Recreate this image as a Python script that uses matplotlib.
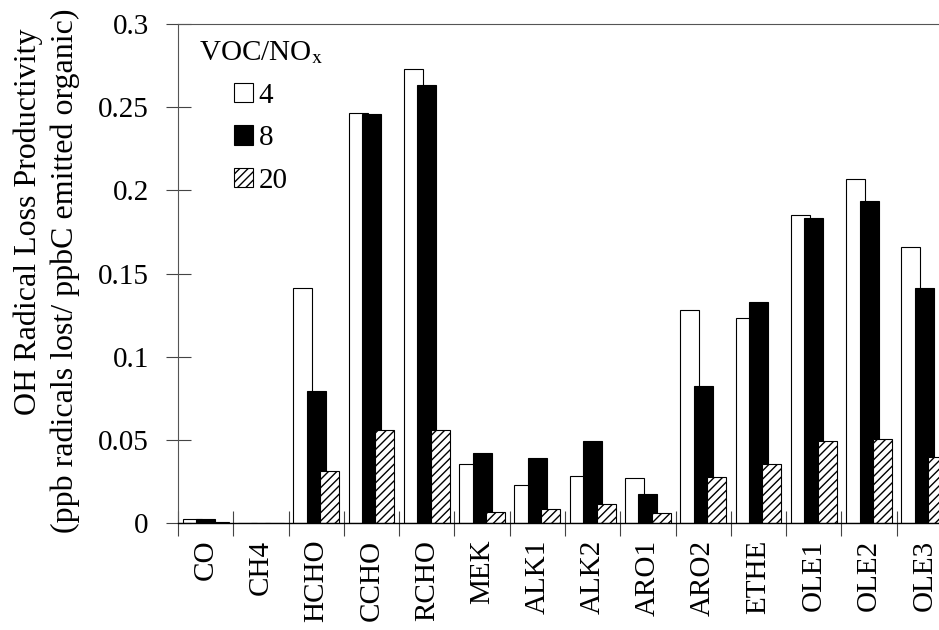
import numpy as np
import matplotlib
matplotlib.use("Agg")
from matplotlib import pyplot as plt

species = ["CO", "CH4", "HCHO", "CCHO", "RCHO", "MEK", "ALK1", "ALK2",
           "ARO1", "ARO2", "ETHE", "OLE1", "OLE2", "OLE3"]
ratio_4 = [0.0025, 0.0003, 0.1415, 0.2467, 0.2732, 0.0355, 0.0229, 0.0284,
           0.0269, 0.1280, 0.1235, 0.1850, 0.2067, 0.1660]
ratio_8 = [0.0024, 0.0003, 0.0796, 0.2459, 0.2632, 0.0420, 0.0390, 0.0490,
           0.0174, 0.0824, 0.1330, 0.1836, 0.1938, 0.1413]
ratio_20 = [0.0006, 0.0002, 0.0310, 0.0560, 0.0560, 0.0068, 0.0082, 0.0114,
            0.0062, 0.0277, 0.0353, 0.0490, 0.0505, 0.0395]
yticks = [0, 0.05, 0.1, 0.15, 0.2, 0.25, 0.3]
ytick_labels = ["0", "0.05", "0.1", "0.15", "0.2", "0.25", "0.3"]

plt.rcParams["font.family"] = "Liberation Serif"
plt.rcParams["mathtext.fontset"] = "stix"
plt.rcParams["hatch.linewidth"] = 1.0

fig = plt.figure(figsize=(9.39, 6.3), dpi=100)
ax = fig.add_axes([178/939, 1 - 523/630, 774/939, 499/630])

x = np.arange(len(species)) + 0.5
w = 0.344
step = 0.244
ax.bar(x - step, ratio_4, w, color="white", edgecolor="black", linewidth=0.8, label="4")
ax.bar(x, ratio_8, w, color="black", edgecolor="black", linewidth=0.8, label="8")
ax.bar(x + step, ratio_20, w, color="white", edgecolor="black", linewidth=0.8,
       hatch="////", label="20")

ax.set_xlim(0, len(species))
ax.set_ylim(0, 0.3)
ax.set_yticks(yticks)
ax.set_yticklabels(ytick_labels, fontsize=21)

# ticks at group boundaries, names centred under groups
ax.set_xticks(np.arange(len(species) + 1))
ax.set_xticklabels([])
ax.set_xticks(x, minor=True)
ax.set_xticklabels(species, minor=True, rotation=90, fontsize=21)
ax.tick_params(axis="x", which="major", direction="inout", length=18, width=0.8, color="#444")
ax.tick_params(axis="x", which="minor", length=0, pad=12)
ax.tick_params(axis="y", direction="inout", length=18, width=0.8, color="#444", pad=12)

for side in ["left", "top"]:
    ax.spines[side].set_color("#555")
    ax.spines[side].set_linewidth(0.8)
ax.spines["bottom"].set_linewidth(1.0)
ax.spines["right"].set_visible(False)

# two-line axis title, each line placed on its own
fig.text(28/939, 1 - 222/630, "OH Radical Loss Productivity",
         rotation=90, ha="center", va="center", fontsize=23)
fig.text(65/939, 1 - 271/630, "(ppb radicals lost/ ppbC emitted organic)",
         rotation=90, ha="center", va="center", fontsize=23)

leg = ax.legend(title="VOC/NO$_{\\mathrm{x}}$", loc="upper left",
                bbox_to_anchor=(199/939, 1 - 39/630), bbox_transform=fig.transFigure,
                frameon=False, fontsize=21, title_fontsize=21,
                handlelength=0.65, handleheight=0.65, handletextpad=0.2,
                labelspacing=0.57, borderpad=0, borderaxespad=0)

fig.savefig("out.png", dpi=100)
